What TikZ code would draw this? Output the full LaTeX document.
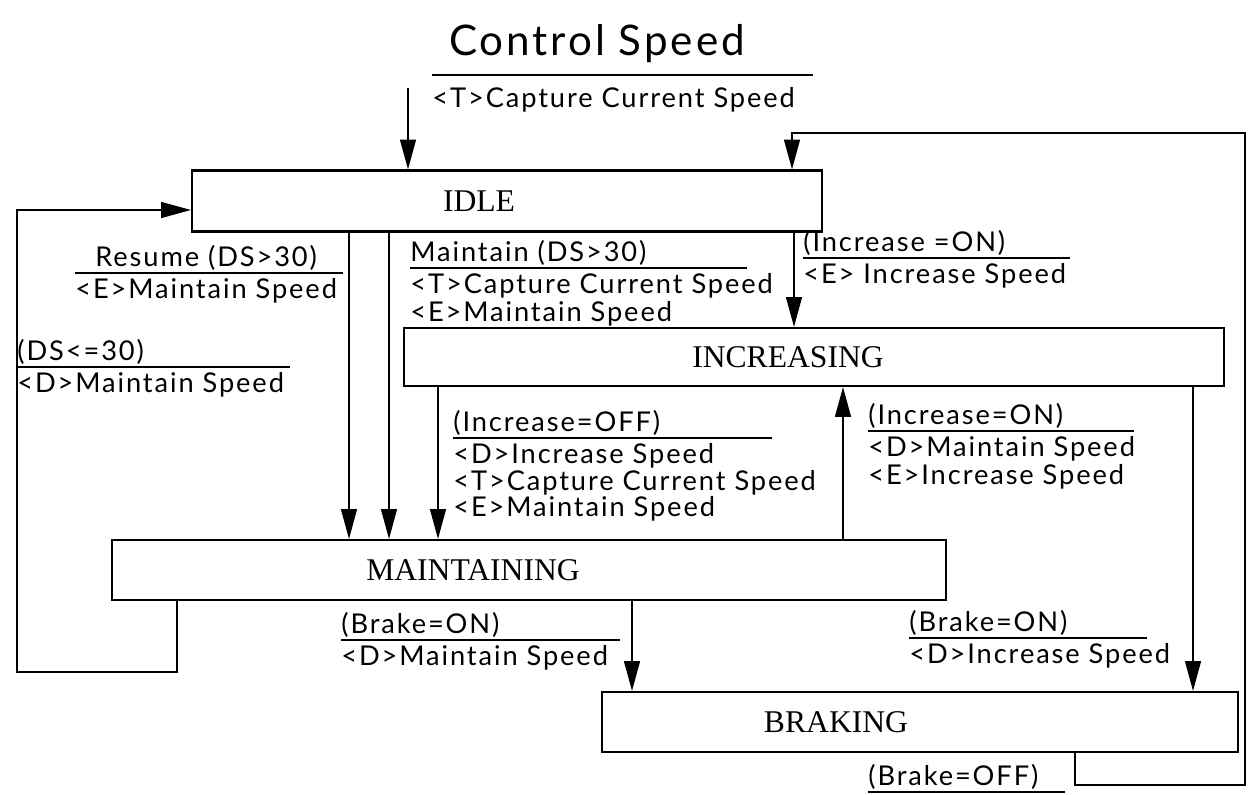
\documentclass[tikz,border=0pt]{standalone}
\usepackage{fontspec}
\setmainfont{Liberation Serif}
\newfontfamily\lblfont[LetterSpace=7]{Lato}
\usetikzlibrary{arrows.meta}
% condition over a rule, actions under it
\newcommand{\trans}[5]{%
  \draw[rul] (#2) -- ++(#3,0);
  \node[cnd] (#1c) at (#2) {#4};
  \node[act] (#1a) at (#2) {#5};}

\begin{document}
\begin{tikzpicture}[x=0.02cm,y=-0.02cm,
  state/.style={draw,line width=1.2pt,inner sep=0pt,font=\fontsize{18}{20}\selectfont},
  lbl/.style={font=\lblfont\fontsize{15.5}{14}\selectfont,align=left,inner xsep=0pt},
  cnd/.style={lbl,anchor=south west,inner ysep=1pt},
  act/.style={lbl,anchor=north west,inner ysep=3pt},
  rul/.style={line width=1pt},
  wire/.style={line width=1.1pt},
  arr/.style={wire,-{Triangle[length=17pt,width=9pt]}}]

\useasboundingbox (0,0) rectangle (1250,794);

\node[font=\lblfont\fontsize{24}{28}\selectfont,anchor=base] (title) at (597,56) {Control Speed};

% states
\node[state,minimum width=12.6cm,minimum height=1.22cm] (idle) at (507,201)
  {\hspace*{-.56cm}IDLE\hspace*{.56cm}};
\node[state,minimum width=16.42cm,minimum height=1.16cm] (incr) at (814,357)
  {\hspace*{-.52cm}INCREASING\hspace*{.52cm}};
\node[state,minimum width=16.68cm,minimum height=1.2cm] (maint) at (529,570)
  {\hspace*{-1.12cm}MAINTAINING\hspace*{1.12cm}};
\node[state,minimum width=12.72cm,minimum height=1.2cm] (brak) at (920,722)
  {\hspace*{-1.68cm}BRAKING\hspace*{1.68cm}};

% straight transitions
\foreach \a/\b/\x in {idle/maint/349,idle/maint/389,incr/maint/438,
                      idle/incr/794,incr/brak/1193,maint/brak/632}
  {\coordinate (col) at (\x,0);
   \draw[arr] (\a.south -| col) -- (\b.north -| col);}
\coordinate (col) at (843,0);
\draw[arr] (maint.north -| col) -- (incr.south -| col);

% entry
\coordinate (init) at (408,88);
\draw[arr] (init) -- (init |- idle.north);

% loops back to IDLE
\coordinate (col) at (177,0);
\coordinate (lb) at (17,672);
\coordinate (lt) at (17,210);
\draw[arr] (maint.south -| col) |- (lb) -- (lt) -- (lt -| idle.west);
\coordinate (col) at (1075,0);
\coordinate (ret) at (792,0);
\coordinate (rb) at (1245,785);
\coordinate (rt) at (1245,133);
\draw[arr] (brak.south -| col) |- (rb) -- (rt) -| (idle.north -| ret);

% labels
\draw[rul] (432,75) -- (813,75);
\node[act] (capa) at (432,82) {<T>Capture Current Speed};
\trans{res}{75,273}{268}{\hspace*{.4cm}Resume (DS>30)}{<E>Maintain Speed}
\trans{low}{17,367}{273}{(DS<=30)}{<D>Maintain Speed}
\trans{mnt}{410,268}{337}{Maintain (DS>30)}{<T>Capture Current Speed\\[1pt]<E>Maintain Speed}
\trans{ion}{803,258}{267}{(Increase =ON)}{<E> Increase Speed}
\trans{ioff}{453,438}{319}{(Increase=OFF)}{<D>Increase Speed\\<T>Capture Current Speed\\<E>Maintain Speed}
\trans{ion2}{868,431}{266}{(Increase=ON)}{<D>Maintain Speed\\[1pt]<E>Increase Speed}
\trans{bon}{341,640}{279}{(Brake=ON)}{<D>Maintain Speed}
\trans{bon2}{909,638}{238}{(Brake=ON)}{<D>Increase Speed}
\draw[rul] (868,792) -- ++(197,0);
\node[cnd] (boffc) at (868,792) {(Brake=OFF)};

\end{tikzpicture}
\end{document}
